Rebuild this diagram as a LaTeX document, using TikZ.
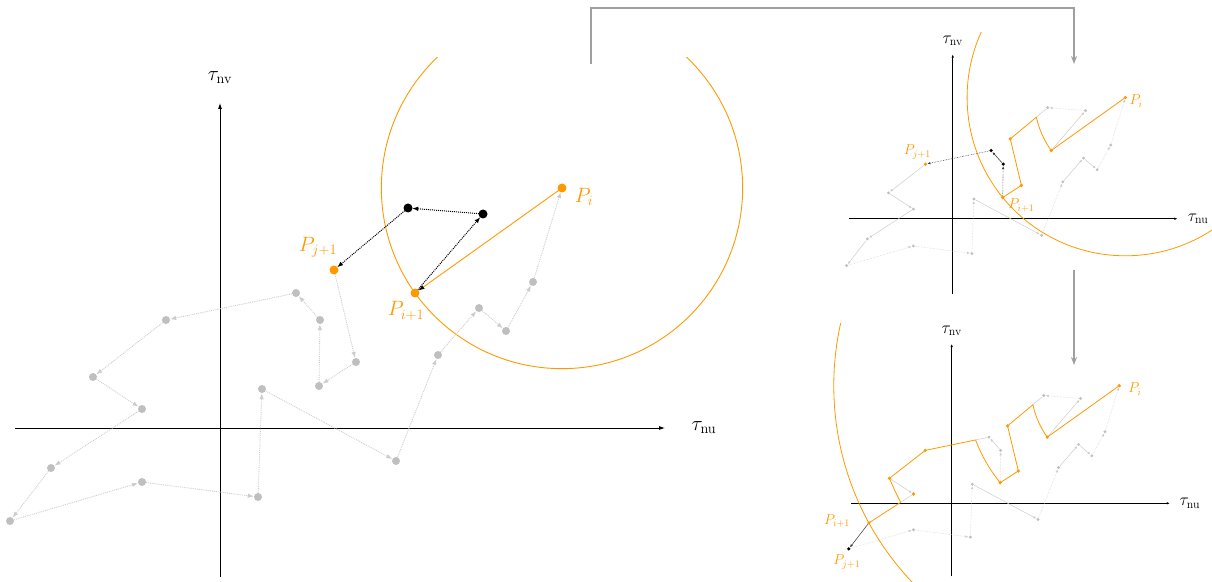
\documentclass[tikz,border=0pt]{standalone}
\usepackage{amsmath}
\usetikzlibrary{arrows.meta,calc}
\definecolor{orng}{RGB}{255,153,0}

% points of the walk, P_i first, in the units of the big plot
\newcommand{\walkpoints}{%
  \foreach \n/\px/\py in {0/342/240, 1/195/135, 2/263/214, 3/188/220, 4/114/158,
      5/136/66, 6/99/42, 7/100/108, 8/76/135, 9/-54/108, 10/-127/51, 11/-78/19,
      12/-169/-40, 13/-210/-93, 14/-78/-54, 15/38/-69, 16/42/39, 17/176/-33,
      18/218/73, 19/259/120, 20/286/97, 21/313/146}
    \node[pt] (t\n) at (\px,\py) {};
  % where the circles cut the old links
  \coordinate (x1) at (165.6,201.2);
  \coordinate (x2) at (48.7,129.3);
  \coordinate (x3) at (-104.2,2.0);
}

\begin{document}
\begin{tikzpicture}[x=1pt, y=1pt,
  pt/.style={circle, inner sep=0pt, minimum size=8pt},
  axis/.style={line width=0.8pt, -{Latex[length=6pt, width=4pt]}},
  walk/.style={gray!40, densely dotted, line width=0.9pt, -{Latex[length=6pt, width=4.5pt]}},
  walkd/.style={walk},
  hop/.style={black, densely dotted, line width=1pt, -{Latex[length=6pt, width=4.5pt]}},
  taut/.style={orng, line width=0.9pt, line join=round},
  ring/.style={orng, line width=0.9pt},
  lbl/.style={orng, font=\huge},
  ax/.style={font=\huge},
  small/.style={pt/.style={circle, inner sep=0pt, minimum size=3.5pt},
    axis/.style={line width=0.6pt, -{Latex[length=3pt, width=2.5pt]}},
    walk/.style={gray!40, line width=0.5pt, -{Latex[length=3pt, width=2.5pt]}},
    walkd/.style={walk, densely dotted},
    hop/.style={black!75, densely dotted, line width=0.6pt, -{Latex[length=3pt, width=2.5pt]}},
    taut/.style={orng, line width=0.8pt, line join=round},
    ring/.style={orng, line width=0.8pt},
    lbl/.style={orng, font=\Large},
    ax/.style={font=\LARGE}},
  flow/.style={gray!75, line width=1.2pt, -{Stealth[length=8pt, width=6pt]}}]
\useasboundingbox (-220,-153) rectangle (992,428);

% big plot: one step
\begin{scope}[name prefix=L-]
  \clip (-220,-153) rectangle (600,370);
  \walkpoints
  \draw[axis] (-205,0) -- (445,0);
  \draw[axis] (0,-149) -- (0,325);
  \node[ax] (nu) at (484,0) {$\tau_{\text{nu}}$};
  \node[ax] (nv) at (0,350) {$\tau_{\text{nv}}$};
  \draw[ring] let \p1=($(t1)-(t0)$), \n1={veclen(\x1,\y1)} in (t0) circle[radius=\n1];
  \foreach \a [evaluate=\a as \b using int(\a+1)] in {4,...,20}
    \draw[walk] (t\a) -- (t\b);
  \draw[walk] (t21) -- (t0);
  \draw[hop] (t1) -- (t2);
  \draw[hop] (t2) -- (t3);
  \draw[hop] (t3) -- (t4);
  \draw[taut, -{Latex[length=6pt, width=4.5pt, black]}] (t0) -- (t1);
  \foreach \n in {5,...,21} \fill[gray!50] (t\n) circle[radius=4pt];
  \foreach \n in {2,3} \fill (t\n) circle[radius=4.5pt];
  \foreach \n in {0,1,4} \fill[orng] (t\n) circle[radius=4.5pt];
  \node[lbl] (pi) at (364,231) {$P_i$};
  \node[lbl] (pj) at (98,181) {$P_{j+1}$};
  \node[lbl] (pk) at (186,117) {$P_{i+1}$};
\end{scope}

% small plot, top: second step
\begin{scope}
  \clip (610,128) rectangle (992,395);
  \begin{scope}[shift={(732.7,209.3)}, x=0.505pt, y=0.505pt, name prefix=T-, small]
    \walkpoints
    \draw[axis] (-205,0) -- (445,0);
    \draw[axis] (0,-149) -- (0,325);
    \node[ax] (nu) at (486,0) {$\tau_{\text{nu}}$};
    \node[ax] (nv) at (0,352) {$\tau_{\text{nv}}$};
    \draw[ring] let \p1=($(t6)-(t0)$), \n1={veclen(\x1,\y1)} in (t0) circle[radius=\n1];
    \foreach \a/\b in {9/10, 10/11, 11/12, 12/13, 16/17, 18/19, 19/20}
      \draw[walk] (t\a) -- (t\b);
    \foreach \a/\b in {13/14, 14/15, 15/16, 17/18, 20/21, 21/0}
      \draw[walkd] (t\a) -- (t\b);
    \draw[walk] (t1) -- (t2);
    \draw[walkd] (t2) -- (t3);
    \draw[walk, -] (t3) -- (x1);
    \draw[hop] (t6) -- (t7);
    \draw[hop, solid] (t7) -- (t8);
    \draw[hop] (t8) -- (t9);
    \draw[taut] (t0.center) -- (t1.center)
      let \p1=($(t1)-(t0)$), \p2=($(x1)-(t0)$), \n1={atan2(\y1,\x1)},
          \n2={atan2(\y2,\x2)}, \n3={veclen(\x1,\y1)}
      in arc[start angle=\n1, end angle=\n2, radius=\n3]
      -- (t4.center) -- (t5.center) -- (t6.center);
    \foreach \n in {2,3,10,11,...,21} \fill[gray!50] (t\n) circle[radius=1.6pt];
    \foreach \n in {7,8} \fill (t\n) circle[radius=1.8pt];
    \foreach \n in {0,1,4,5,6,9} \fill[orng] (t\n) circle[radius=1.8pt];
    \node[lbl] (pi) at (363,233) {$P_i$};
    \node[lbl] (pj) at (-70,132) {$P_{j+1}$};
    \node[lbl] (pk) at (136,26) {$P_{i+1}$};
  \end{scope}
\end{scope}

% small plot, bottom: third step
\begin{scope}
  \clip (590,-153) rectangle (992,105);
  \begin{scope}[shift={(731.7,-75.3)}, x=0.49pt, y=0.49pt, name prefix=B-, small]
    \walkpoints
    \draw[axis] (-205,0) -- (445,0);
    \draw[axis] (0,-149) -- (0,325);
    \node[ax] (nu) at (486,0) {$\tau_{\text{nu}}$};
    \node[ax] (nv) at (0,352) {$\tau_{\text{nv}}$};
    \draw[ring] let \p1=($(t12)-(t0)$), \n1={veclen(\x1,\y1)} in (t0) circle[radius=\n1];
    \foreach \a/\b in {16/17, 18/19, 19/20}
      \draw[walk] (t\a) -- (t\b);
    \foreach \a/\b in {13/14, 14/15, 15/16, 17/18, 20/21, 21/0}
      \draw[walkd] (t\a) -- (t\b);
    \draw[walk] (t1) -- (t2);
    \draw[walkd] (t2) -- (t3);
    \draw[walk, -] (t3) -- (x1);
    \draw[walkd] (t6) -- (t7);
    \draw[walk] (t7) -- (t8);
    \draw[walk, -] (t8) -- (x2);
    \draw[walk] (t10) -- (t11);
    \draw[walk, -] (t11) -- (x3);
    \draw[black!80, line width=0.5pt, -{Latex[length=3pt, width=2.5pt]}] (t12) -- (t13);
    \draw[taut] (t0.center) -- (t1.center)
      let \p1=($(t1)-(t0)$), \p2=($(x1)-(t0)$), \n1={atan2(\y1,\x1)},
          \n2={atan2(\y2,\x2)}, \n3={veclen(\x1,\y1)}
      in arc[start angle=\n1, end angle=\n2, radius=\n3]
      -- (t4.center) -- (t5.center) -- (t6.center)
      let \p1=($(t6)-(t0)$), \p2=($(x2)-(t0)$), \n1={atan2(\y1,\x1)},
          \n2={atan2(\y2,\x2)}, \n3={veclen(\x1,\y1)}
      in arc[start angle=\n1, end angle=\n2, radius=\n3]
      -- (t9.center) -- (t10.center)
      let \p1=($(t10)-(t0)$), \p2=($(x3)-(t0)$), \n1={atan2(\y1,\x1)},
          \n2={atan2(\y2,\x2)}, \n3={veclen(\x1,\y1)}
      in arc[start angle=\n1, end angle=\n2, radius=\n3]
      -- (t12.center);
    \foreach \n in {2,3,7,8,14,15,...,21} \fill[gray!50] (t\n) circle[radius=1.6pt];
    \fill (t13) circle[radius=1.8pt];
    \foreach \n in {0,1,4,5,6,9,10,11,12} \fill[orng] (t\n) circle[radius=1.8pt];
    \node[lbl] (pi) at (374,233) {$P_i$};
    \node[lbl] (pk) at (-234,-36) {$P_{i+1}$};
    \node[lbl] (pj) at (-214,-120) {$P_{j+1}$};
  \end{scope}
\end{scope}

% from one step to the next
\coordinate (go) at (371,364);
\coordinate (tr) at (854,364);
\coordinate (tb) at (854,158);
\coordinate (br) at (854,63);
\draw[flow] (go) -- ++(0,56) -| (tr);
\draw[flow] (tb) -- (br);
\end{tikzpicture}
\end{document}
